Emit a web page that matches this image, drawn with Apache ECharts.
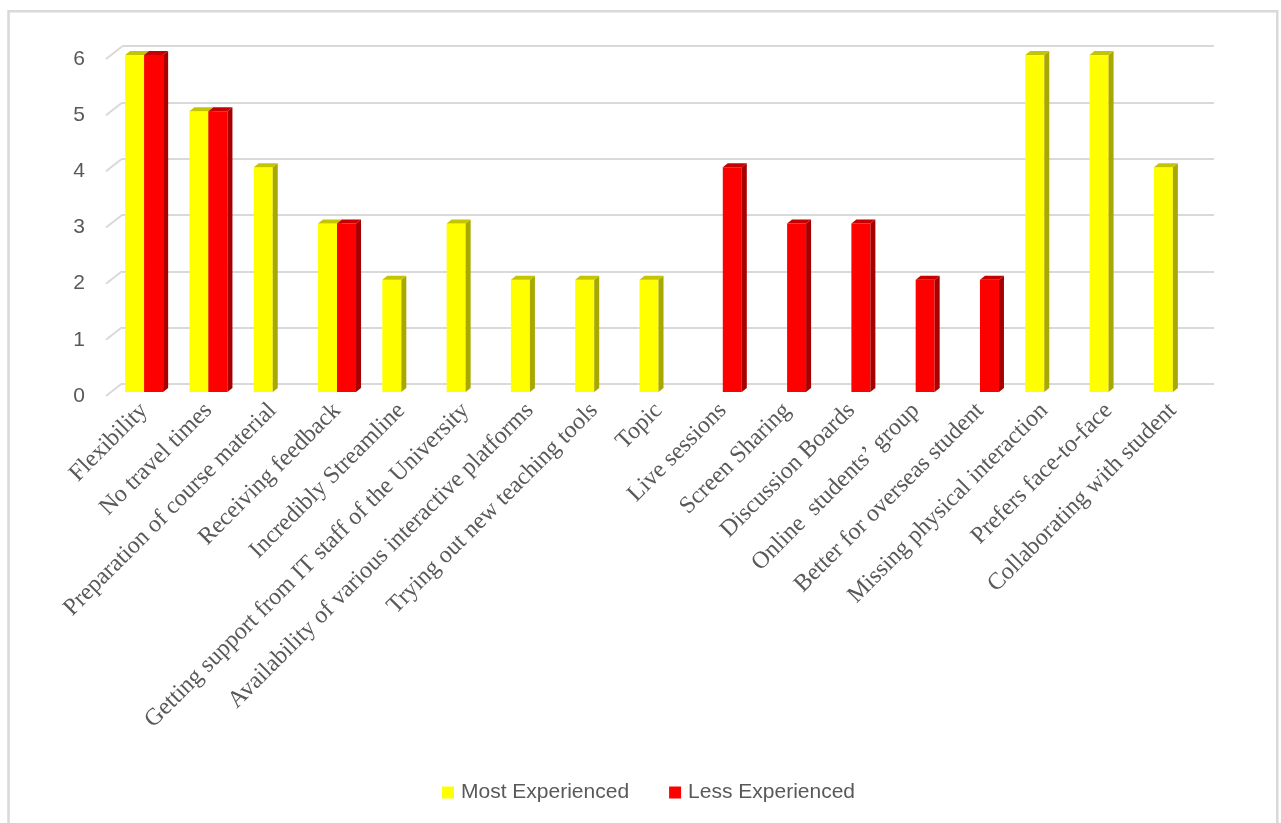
<!DOCTYPE html>
<html>
<head>
<meta charset="utf-8">
<script src="https://cdn.jsdelivr.net/npm/echarts@6/dist/echarts.min.js"></script>
<style>
html,body{margin:0;padding:0;background:#fff;}
#chart{position:absolute;left:0;top:0;width:1281px;height:823px;}
</style>
</head>
<body>
<div id="chart"></div>
<script>
const categories = [
  "Flexibility",
  "No travel times",
  "Preparation of course material",
  "Receiving feedback",
  "Incredibly Streamline",
  "Getting support from IT staff of the University",
  "Availability of various interactive platforms",
  "Trying out new teaching tools",
  "Topic",
  "Live sessions",
  "Screen Sharing",
  "Discussion Boards",
  "Online  students\u2019 group",
  "Better for overseas student",
  "Missing physical interaction",
  "Prefers face-to-face",
  "Collaborating with student"
];
const mostExperienced = [6, 5, 4, 3, 2, 3, 2, 2, 2, null, null, null, null, null, 6, 6, 4];
const lessExperienced = [6, 5, null, 3, null, null, null, null, null, 4, 3, 3, 2, 2, null, null, null];
const yTicks = [0, 1, 2, 3, 4, 5, 6];
const seriesNames = ["Most Experienced", "Less Experienced"];

const palette = [
  {front: "#FFFF00", side: "#A8A800", top: "#C4C400"},
  {front: "#FF0000", side: "#A80000", top: "#C40000"}
];
const BAR_W = 19, DX = 5, DY = 4;
const WALL_DX = 16, WALL_DY = 12.5;

function barRender(sIdx) {
  return function (params, api) {
    const idx = api.value(0);
    const val = api.value(1);
    if (val == null || isNaN(val)) return null;
    const c = api.coord([idx, val]);
    const b = api.coord([idx, 0]);
    const x0 = sIdx === 0 ? c[0] - BAR_W : c[0];
    const yt = c[1], yb = b[1];
    const col = palette[sIdx];
    return {
      type: "group",
      children: [
        {type: "rect", shape: {x: x0, y: yt, width: BAR_W, height: yb - yt}, style: {fill: col.front}},
        {type: "polygon", shape: {points: [[x0 + BAR_W, yt], [x0 + BAR_W + DX, yt - DY], [x0 + BAR_W + DX, yb - DY], [x0 + BAR_W, yb]]}, style: {fill: col.side}},
        {type: "polygon", shape: {points: [[x0, yt], [x0 + DX, yt - DY], [x0 + BAR_W + DX, yt - DY], [x0 + BAR_W, yt]]}, style: {fill: col.top}}
      ]
    };
  };
}

const chart = echarts.init(document.getElementById("chart"), null, {renderer: "canvas"});
const option = {
  animation: false,
  backgroundColor: "#ffffff",
  graphic: [{
    type: "rect", silent: true, z: -10,
    shape: {x: 8.5, y: 11.2, width: 1268.8, height: 900},
    style: {fill: "none", stroke: "#d9d9d9", lineWidth: 2.5}
  }],
  legend: {
    data: seriesNames,
    left: 442, top: 782, padding: 0,
    icon: "rect", itemWidth: 12, itemHeight: 12, itemGap: 40,
    textStyle: {color: "#595959", fontFamily: "Liberation Sans", fontSize: 21, padding: [0, 0, 0, 2]}
  },
  grid: [
    {left: 122, top: 46, width: 1092, height: 338},
    {left: 106, top: 59, width: 10, height: 337},
    {left: 112, top: 55, width: 1093, height: 337}
  ],
  xAxis: [
    {gridIndex: 0, type: "category", data: categories, show: false},
    {gridIndex: 1, type: "value", min: 0, max: 1, show: false},
    {gridIndex: 2, type: "category", data: categories,
      axisLine: {show: false}, axisTick: {show: false}, splitLine: {show: false},
      axisLabel: {interval: 0, rotate: 45, margin: 15, color: "#595959", fontFamily: "Liberation Serif", fontSize: 24}}
  ],
  yAxis: [
    {gridIndex: 0, type: "value", min: 0, max: 6, interval: 1,
      axisLabel: {show: false}, axisLine: {show: false}, axisTick: {show: false},
      splitLine: {show: true, lineStyle: {color: "#d9d9d9", width: 2}}},
    {gridIndex: 1, type: "value", min: 0, max: 6, interval: 1,
      axisLine: {show: false}, axisTick: {show: false}, splitLine: {show: false},
      axisLabel: {margin: 21, color: "#595959", fontFamily: "Liberation Sans", fontSize: 21}},
    {gridIndex: 2, type: "value", min: 0, max: 6, interval: 1, show: false, splitLine: {show: false}}
  ],
  series: [
    {
      type: "custom", name: "wall", xAxisIndex: 1, yAxisIndex: 1, silent: true,
      data: yTicks.map(v => [0, v]),
      renderItem: function (params, api) {
        const p = api.coord([api.value(0), api.value(1)]);
        return {type: "line", shape: {x1: p[0], y1: p[1], x2: p[0] + WALL_DX, y2: p[1] - WALL_DY},
          style: {stroke: "#d9d9d9", lineWidth: 2}};
      }
    },
    {
      type: "custom", name: seriesNames[0], xAxisIndex: 2, yAxisIndex: 2,
      itemStyle: {color: palette[0].front},
      data: mostExperienced.map((v, i) => [i, v == null ? "-" : v]),
      renderItem: barRender(0)
    },
    {
      type: "custom", name: seriesNames[1], xAxisIndex: 2, yAxisIndex: 2,
      itemStyle: {color: palette[1].front},
      data: lessExperienced.map((v, i) => [i, v == null ? "-" : v]),
      renderItem: barRender(1)
    }
  ]
};
chart.setOption(option);
</script>
</body>
</html>
